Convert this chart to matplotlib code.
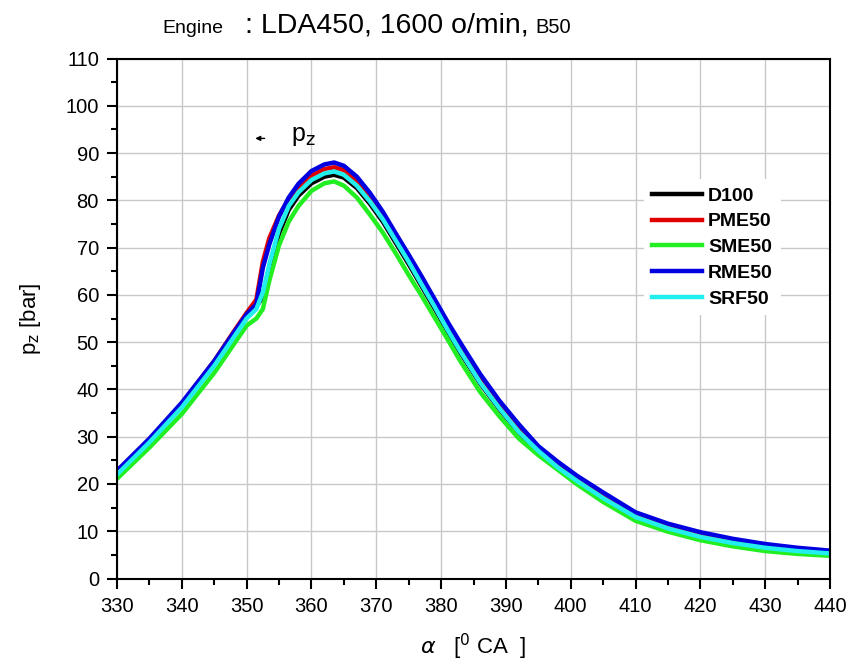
import matplotlib
matplotlib.use("Agg")
import matplotlib.pyplot as plt
from matplotlib.ticker import MultipleLocator

plt.rcParams['font.family'] = ['Liberation Sans', 'DejaVu Sans']

# crank angle [deg CA]
alpha = [330, 335, 340, 345, 348, 350, 351.5, 352.5, 353.5, 355, 356.5, 358, 360,
         362, 363.5, 365, 367, 369, 371, 373, 375, 377, 379, 381, 383, 386, 389,
         392, 395, 398, 401, 405, 410, 415, 420, 425, 430, 435, 440]

# cylinder pressure [bar]
d100 = [22.3, 29.0, 36.6, 45.4, 51.4, 55.3, 57.6, 59.5, 65.5, 73.0, 78.0, 81.0, 83.6,
        85.0, 85.4, 84.8, 82.6, 79.3, 75.5, 71.0, 66.5, 61.8, 57.1, 52.3, 47.7, 41.3, 35.8,
        30.9, 26.9, 23.4, 20.5, 16.9, 13.0, 10.5, 8.7, 7.4, 6.4, 5.8, 5.3]
pme50 = [22.6, 29.4, 37.0, 46.0, 52.2, 56.2, 59.0, 67.0, 72.0, 76.8, 80.2, 82.7, 85.2,
         86.6, 87.0, 86.4, 84.1, 80.8, 77.0, 72.4, 67.9, 63.3, 58.6, 53.8, 49.3, 42.7, 36.9,
         32.1, 27.7, 24.2, 21.2, 17.8, 13.7, 11.3, 9.5, 8.1, 7.0, 6.3, 5.6]
sme50 = [21.1, 27.7, 34.8, 43.5, 49.5, 53.5, 55.0, 57.0, 63.0, 70.5, 75.5, 78.8, 82.0,
         83.6, 84.0, 83.1, 80.6, 77.0, 73.2, 68.8, 64.2, 59.8, 55.2, 50.6, 45.9, 39.5, 34.3,
         29.6, 26.1, 23.0, 19.9, 16.2, 12.2, 9.9, 8.1, 6.8, 5.8, 5.2, 4.8]
rme50 = [22.8, 29.6, 37.2, 46.0, 52.0, 55.9, 58.0, 65.7, 70.7, 76.6, 80.6, 83.5, 86.2,
         87.6, 88.0, 87.3, 85.0, 81.6, 77.6, 73.0, 68.5, 63.9, 59.1, 54.3, 49.8, 43.3, 37.6,
         32.6, 28.0, 24.7, 21.7, 18.2, 14.0, 11.6, 9.8, 8.4, 7.3, 6.5, 5.9]
srf50 = [22.0, 28.8, 36.2, 45.0, 51.0, 55.0, 57.0, 60.5, 66.5, 74.0, 78.8, 81.7, 84.3,
         85.7, 86.1, 85.4, 83.1, 79.8, 76.0, 71.5, 67.0, 62.2, 57.5, 52.6, 48.0, 41.5, 36.0,
         31.0, 27.0, 23.5, 20.6, 17.0, 13.0, 10.6, 8.8, 7.5, 6.5, 5.8, 5.3]

labels = ['D100', 'PME50', 'SME50', 'RME50', 'SRF50']
colors = ['#000000', '#e00000', '#22ee22', '#0000e0', '#22eeee']

fig = plt.figure(figsize=(8.49, 6.67), dpi=100)
ax = fig.add_axes([117 / 849, 1 - 578.5 / 667, 713 / 849, 520 / 667])

for y, lab, c in zip([d100, pme50, sme50, rme50, srf50], labels, colors):
    ax.plot(alpha, y, color=c, lw=3.2, label=lab, solid_joinstyle='round')

ax.set_xlim(330, 440)
ax.set_ylim(0, 110)
ax.xaxis.set_major_locator(MultipleLocator(10))
ax.xaxis.set_minor_locator(MultipleLocator(5))
ax.yaxis.set_major_locator(MultipleLocator(10))
ax.yaxis.set_minor_locator(MultipleLocator(5))
ax.grid(True, which='major', color='#c8c8c8', lw=1.0)
ax.set_axisbelow(True)
ax.tick_params(which='major', direction='out', length=7, width=1.5, labelsize=14.5)
ax.tick_params(which='minor', direction='out', length=4, width=1.5)
ax.tick_params(axis='x', which='major', pad=6)
ax.tick_params(axis='y', which='major', pad=6)
for s in ax.spines.values():
    s.set_linewidth(1.5)

ax.set_ylabel(r'p$_\mathrm{z}$ [bar]', fontsize=16, labelpad=16)
ax.set_xlabel(r'$\alpha$   [$^{0}$ CA  ]', fontsize=16, labelpad=12)

# title pieces
fig.text(162 / 849, 1 - 33 / 667, 'Engine', fontsize=14, va='baseline')
fig.text(245 / 849, 1 - 33 / 667, ': LDA450, 1600 o/min,', fontsize=20.5, va='baseline')
fig.text(535 / 849, 1 - 33 / 667, 'B50', fontsize=14.5, va='baseline')

# p_z arrow marker
ax.annotate('', xy=(350.9, 93.1), xytext=(353.2, 93.1),
            arrowprops=dict(arrowstyle='-|>', color='black', lw=1, mutation_scale=7))
ax.text(356.9, 92.6, r'p$_\mathrm{z}$', fontsize=18, va='baseline')

leg = ax.legend(loc='upper left', bbox_to_anchor=(0.739, 0.768), frameon=True,
                fancybox=False, edgecolor='none', facecolor='white', framealpha=1,
                handlelength=2.6, handletextpad=0.3, labelspacing=0.42,
                borderaxespad=0, prop={'size': 14, 'weight': 'bold'})

fig.savefig('out.png', dpi=100)
